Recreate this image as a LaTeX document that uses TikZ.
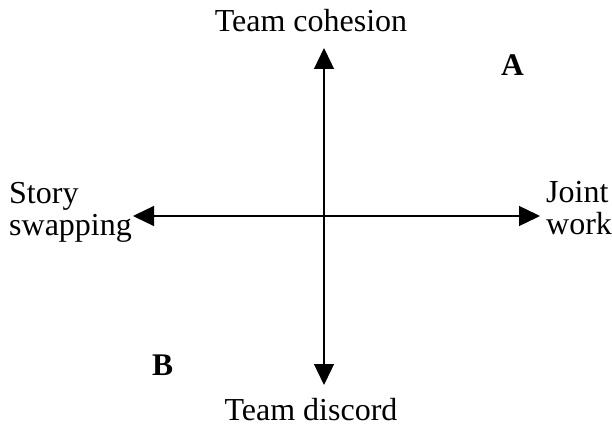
\documentclass[tikz,border=0pt]{standalone}
\usepackage{fontspec}
\setmainfont{Liberation Serif}
\usetikzlibrary{arrows.meta}
\tikzset{
  axis/.style={line width=1.3pt, {Triangle[length=21pt,width=20pt]}-{Triangle[length=21pt,width=20pt]}},
  lbl/.style={inner sep=0pt, font=\fontsize{32}{31.5}\selectfont},
  quad/.style={inner sep=0pt, font=\fontsize{31.5}{30}\selectfont\bfseries}
}
\begin{document}
\begin{tikzpicture}[x=1pt,y=1pt]
\useasboundingbox (0,0) rectangle (612,426);
\coordinate (top) at (324,378);
\coordinate (bot) at (324,41);
\coordinate (lft) at (133,210);
\coordinate (rgt) at (540,210);
\draw[axis] (bot) -- (top);
\draw[axis] (lft) -- (rgt);
\node[lbl, anchor=base] (coh) at (311,394) {Team cohesion};
\node[lbl, anchor=base] (dis) at (311,6) {Team discord};
\node[lbl, anchor=base west, align=left] (story) at (9,191) {Story\\swapping};
\node[lbl, anchor=base west, align=left] (joint) at (546,192) {Joint\\work};
\node[quad, anchor=base west] (A) at (501,350) {A};
\node[quad, anchor=base west] (B) at (152,51) {B};
\end{tikzpicture}
\end{document}
